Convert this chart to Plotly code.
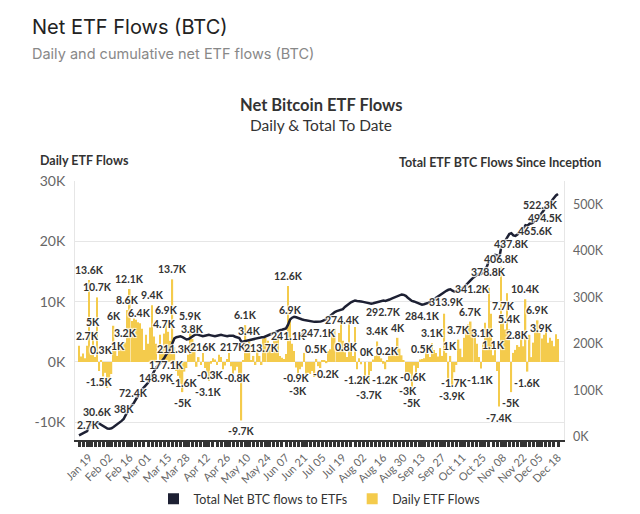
import pandas as pd
import plotly.graph_objects as go

# ---------------- data ----------------
HOLIDAYS = ["2024-01-15", "2024-02-19", "2024-03-29", "2024-05-27",
            "2024-06-19", "2024-07-04", "2024-09-02", "2024-11-28"]
_days = pd.bdate_range("2024-01-11", "2024-12-18")
_days = _days[~_days.isin(pd.to_datetime(HOLIDAYS))]
DATES = [d.strftime("%Y-%m-%d") for d in _days]

# Daily ETF flows, thousands of BTC
DAILY_K = [
    2.7, 0.9, 1.4, 0.6, 2.7, 13.6, 1.2, 5.0, 0.8, 10.7,
    -1.5, 0.3, -2.4, -1.8, -4.3, -3.2, -2.0, 6.0, 2.5, 1.0,
    3.0, 2.5, 3.0, 3.2, 8.6, 12.1, 6.8, 7.2, 7.0, 6.6,
    6.4, 5.5, 2.0, 4.5, 3.0, 5.7, 9.4, 4.2, 3.0, -1.0,
    4.5, 2.5, 4.7, 6.9, 5.0, 3.5, 13.7, 2.5, -1.5, -2.3,
    -3.6, -5.0, -1.6, -1.0, 1.2, 5.9, 3.8, 3.0, -0.8, 0.8,
    -0.5, 1.5, -1.0, -1.8, -3.1, -0.3, 0.6, 0.4, -0.5, 1.2,
    0.8, -1.2, -0.6, 0.5, 1.5, -0.7, -2.0, -1.4, -0.8, -2.5,
    -9.7, 0.3, 6.1, 1.5, 3.4, 0.2, 1.0, -0.5, 2.1, 1.0,
    -0.5, 3.8, 4.0, 3.5, 2.5, 1.5, 4.2, 3.9, 4.2, 1.0,
    0.7, 0.5, 1.3, 12.6, 6.9, 3.0, 1.8, -0.9, -3.0, -1.2,
    -0.8, 1.5, -2.3, -1.8, -2.0, -1.5, -2.5, 0.5, -0.7, -1.0,
    0.3, 0.2, -0.2, 1.8, 2.1, 4.5, 5.5, 2.0, 4.8, 6.5,
    3.5, 1.6, 0.8, 7.0, 2.5, 1.0, 5.8, -1.2, 0.6, -0.4,
    0.0, -2.5, 0.0, -3.7, -1.5, 0.4, 1.0, 3.4, 1.2, 0.6,
    -0.3, -1.2, 0.2, 1.1, 1.3, 1.4, 1.0, 4.0, 2.2, 1.1,
    0.3, -1.8, -3.0, -2.0, -5.0, -0.6, -2.1, -1.0, 0.4, 0.5,
    0.6, 2.0, 1.3, 0.8, 3.1, 2.0, 1.5, 0.9, 2.3, 1.0,
    8.0, 1.5, -3.0, 1.0, -3.9, -1.7, -0.5, 3.7, 2.2, 0.8,
    4.0, 5.8, 6.2, 6.7, 5.5, 4.8, 3.0, 0.8, -1.1, 3.1,
    6.5, 4.5, 12.3, 8.0, 1.1, 2.5, -1.5, -7.4, 15.8, 7.7,
    5.4, 11.4, 5.4, -5.0, 1.5, 2.0, 2.8, 2.5, 3.8, 2.6,
    10.4, -1.6, 4.5, 0.8, 3.2, 5.2, 6.9, 4.8, 3.9, 4.5,
    5.0, 3.2, 4.0, 3.5, 2.6, 4.6, 3.8,
]

# Total net BTC held by ETFs, thousands of BTC
TOTAL_K = [
    2.7, 5, 8, 10, 12, 24, 25, 27, 28.5, 30.6,
    28, 25, 22, 20, 17.5, 17, 18, 21, 24, 27,
    31, 34, 38, 45, 55, 63, 68, 72.4, 80, 88,
    95, 101, 106, 111, 116, 124, 132, 140, 148.9, 153,
    158, 163, 169, 177.1, 182, 188, 201, 211.3, 214, 215,
    216, 214, 211, 209, 210, 213, 216, 219, 220, 219,
    217, 216, 217, 218, 219, 218, 217, 216, 217, 218,
    219, 218, 217, 216, 217, 217, 217, 215, 214, 212,
    204, 205, 207, 208, 209, 210, 210, 211, 212, 213,
    213.7, 214, 216, 218, 220, 222, 224, 226, 228, 229,
    230, 231, 233, 241.1, 252, 256, 258, 257, 255, 253,
    252, 251, 250, 249, 248, 247.5, 247, 247, 247.1, 247.5,
    249, 251, 253, 257, 261, 265, 268, 270, 272, 273,
    274.4, 279, 283, 287, 289, 291, 293, 292, 292, 291,
    290, 289, 289, 287, 286, 287, 288, 290, 291, 292,
    292.7, 292, 293, 295, 297, 299, 301, 303, 305, 306,
    305, 303, 299, 296, 292, 291, 289, 287, 285, 284.1,
    285, 286, 288, 290, 293, 296, 299, 302, 305, 309,
    312, 313.9, 316, 317, 314, 312, 313, 315, 317, 320,
    323, 327, 332, 337, 341.2, 345, 348, 350, 350, 353,
    360, 366, 378.8, 386, 388, 391, 390, 383, 406.8, 414,
    420, 430, 436, 437.8, 433, 432, 435, 440, 444, 447,
    455, 454, 458, 459, 462, 465.6, 470, 475, 480, 487,
    494.5, 498, 503, 508, 514, 519, 522.3,
]

assert len(DAILY_K) == len(DATES) == len(TOTAL_K), (len(DAILY_K), len(DATES), len(TOTAL_K))

TICK_LABELS = ["Jan 19", "Feb 02", "Feb 16", "Mar 01", "Mar 15", "Mar 28", "Apr 12",
               "Apr 26", "May 10", "May 24", "Jun 07", "Jun 21", "Jul 05", "Jul 19",
               "Aug 02", "Aug 16", "Aug 30", "Sep 13", "Sep 27", "Oct 11", "Oct 25",
               "Nov 08", "Nov 22", "Dec 05", "Dec 18"]

# points whose value is printed
BAR_LABEL_IDX = [4, 5, 7, 9, 10, 11, 17, 19, 23, 24, 25, 30, 36, 42, 43, 46, 51, 52,
                 55, 56, 64, 65, 78, 80, 82, 84, 103, 104, 107, 108, 117, 122, 132,
                 137, 142, 143, 147, 151, 152, 157, 162, 164, 165, 169, 174, 183, 184,
                 185, 187, 193, 198, 199, 204, 207, 209, 212, 213, 216, 220, 221, 226, 228]
LINE_LABEL_IDX = [0, 9, 22, 27, 38, 43, 47, 61, 76, 90, 103, 118, 130, 150, 169, 181,
                  194, 202, 208, 213, 225, 230, 236]
LINE_LABELS_ABOVE = [0, 9, 22, 27]

LEFT_TICKS = [-10, 0, 10, 20, 30]
RIGHT_TICKS = [0, 100, 200, 300, 400, 500]

# ---------------- style ----------------
W, H = 640, 514
ML, MR, MT, MB = 75, 76, 181, 74
NAVY = "#1d2033"
YELLOW = "#F4CB4C"
FONT = "Lato"
OUTLINE = "1px 1px 1px #fff, -1px -1px 1px #fff, 1px -1px 1px #fff, -1px 1px 1px #fff"
LABEL_FONT = dict(family=FONT, size=10.5, color="#333", weight="bold", shadow=OUTLINE)


def px_x(px):
    return (px - ML) / (W - ML - MR)


def px_y(py):
    return (H - MB - py) / (H - MT - MB)


def fmt(v):
    return f"{v:.1f}".rstrip("0").rstrip(".") + "K"


label_dates = {pd.to_datetime(t + " 2024", format="%b %d %Y").strftime("%Y-%m-%d"): t
               for t in TICK_LABELS}
tick_vals = [d for k, d in enumerate(DATES) if k % 2 == 0 or d in label_dates]
tick_text = [label_dates.get(d, "") for d in tick_vals]

fig = go.Figure()

fig.add_trace(go.Bar(
    x=DATES, y=DAILY_K, yaxis="y", marker=dict(color=YELLOW, line=dict(width=0)),
    showlegend=False, hoverinfo="skip",
))
fig.add_trace(go.Scatter(
    x=DATES, y=TOTAL_K, yaxis="y2", mode="lines",
    line=dict(color=NAVY, width=2.5), showlegend=False, hoverinfo="skip",
))
# legend entries
fig.add_trace(go.Scatter(x=[None], y=[None], mode="markers", name="Total Net BTC flows to ETFs",
                         marker=dict(symbol="square", size=11, color=NAVY)))
fig.add_trace(go.Scatter(x=[None], y=[None], mode="markers", name="Daily ETF Flows",
                         marker=dict(symbol="square", size=11, color=YELLOW)))

# ---- data labels (as annotations so they sit above every mark) ----
annotations = []
last = len(DATES) - 1
for i in LINE_LABEL_IDX:
    a = dict(x=DATES[i], y=TOTAL_K[i], xref="x", yref="y2", text=fmt(TOTAL_K[i]),
             showarrow=False, font=LABEL_FONT, xanchor="center")
    if i in LINE_LABELS_ABOVE:
        a.update(yanchor="bottom", yshift=2)
    else:
        a.update(yanchor="top", yshift=-3)
    if i == 0:
        a.update(xanchor="left", xshift=-4)
    elif i == last:
        a.update(xanchor="right", xshift=2)
    annotations.append(a)
for i in BAR_LABEL_IDX:
    v = DAILY_K[i]
    a = dict(x=DATES[i], y=v, xref="x", yref="y", text=fmt(v), showarrow=False,
             font=LABEL_FONT, xanchor="center")
    if v >= 0:
        a.update(yanchor="bottom", yshift=2)
    else:
        a.update(yanchor="top", yshift=-3)
    annotations.append(a)

annotations += [
    dict(text="Net ETF Flows (BTC)", xref="paper", yref="paper", x=px_x(30), y=px_y(27),
         xanchor="left", yanchor="middle", showarrow=False,
         font=dict(family="Inter", size=20, color="#222")),
    dict(text="Daily and cumulative net ETF flows (BTC)", xref="paper", yref="paper",
         x=px_x(30), y=px_y(53), xanchor="left", yanchor="middle", showarrow=False,
         font=dict(family="Inter", size=14.5, color="#888")),
    dict(text="<b>Net Bitcoin ETF Flows</b>", xref="paper", yref="paper",
         x=px_x(321), y=px_y(105), xanchor="center", yanchor="middle", showarrow=False,
         font=dict(family=FONT, size=16.5, color="#333")),
    dict(text="Daily & Total To Date", xref="paper", yref="paper",
         x=px_x(321), y=px_y(125), xanchor="center", yanchor="middle", showarrow=False,
         font=dict(family=FONT, size=15.5, color="#333")),
    dict(text="<b>Daily ETF Flows</b>", xref="paper", yref="paper",
         x=px_x(38), y=px_y(161), xanchor="left", yanchor="middle", showarrow=False,
         font=dict(family=FONT, size=12.5, color="#333")),
    dict(text="<b>Total ETF BTC Flows Since Inception</b>", xref="paper", yref="paper",
         x=px_x(603), y=px_y(163), xanchor="right", yanchor="middle", showarrow=False,
         font=dict(family=FONT, size=12.5, color="#333")),
]

n = len(DATES)
x_range = [-(79 - ML) / 2.03, n - 1 + (W - MR - 558) / 2.03]
y_range = [-12.94, 30.0]
y2_range = [-7.1, 550.0]

fig.update_layout(
    width=W, height=H, autosize=False,
    margin=dict(l=ML, r=MR, t=MT, b=MB, pad=0, autoexpand=False),
    paper_bgcolor="white", plot_bgcolor="white",
    font=dict(family=FONT, color="#333"),
    hovermode=False, bargap=0.25,
    xaxis=dict(
        type="category", categoryorder="array", categoryarray=DATES, range=x_range,
        tickmode="array", tickvals=tick_vals, ticktext=tick_text, tickangle=-45,
        ticks="outside", ticklen=5, tickwidth=3, tickcolor="#333", automargin=False,
        showline=True, linecolor="#333", linewidth=2, showgrid=False, zeroline=False,
        tickfont=dict(family=FONT, size=11, color="#666"),
    ),
    yaxis=dict(
        range=y_range, tickmode="array", tickvals=LEFT_TICKS, automargin=False,
        ticktext=[fmt(v) for v in LEFT_TICKS], showgrid=True, gridcolor="#e6e6e6",
        zeroline=False, showline=True, linecolor="#e6e6e6", mirror=True,
        tickfont=dict(family=FONT, size=14, color="#666"), ticklabelstandoff=6,
    ),
    yaxis2=dict(
        overlaying="y", side="right", range=y2_range, tickmode="array",
        tickvals=RIGHT_TICKS, ticktext=[fmt(v) for v in RIGHT_TICKS], automargin=False,
        showgrid=False, zeroline=False, showline=False,
        tickfont=dict(family=FONT, size=12.5, color="#666"), ticklabelstandoff=8,
    ),
    legend=dict(
        orientation="h", x=0.5, xanchor="center", y=px_y(499), yanchor="middle",
        font=dict(family=FONT, size=12.5, color="#333"), itemwidth=30,
        bgcolor="rgba(0,0,0,0)",
    ),
    annotations=annotations,
)

fig.write_html("out.html", config={"displayModeBar": False},
               post_script="document.body.style.margin='0';")
